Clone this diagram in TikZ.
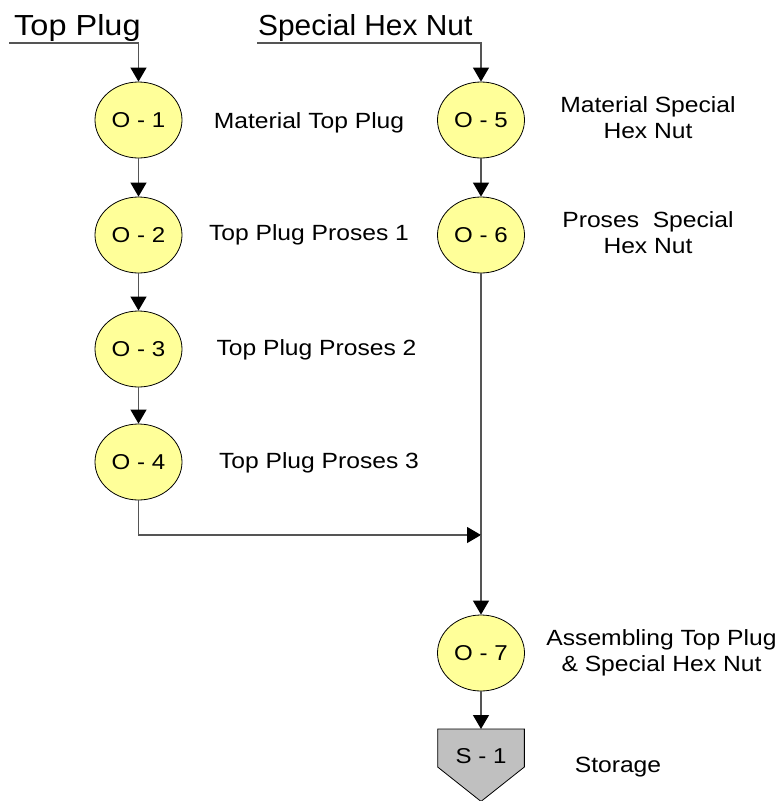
\documentclass[tikz,border=0pt]{standalone}
\usepackage{fontspec}
\setmainfont[FakeStretch=1.12]{Liberation Sans}
\newfontfamily\narrowtitle[FakeStretch=1.03]{Liberation Sans}
\usetikzlibrary{arrows.meta}
\definecolor{opfill}{HTML}{FFFF99}
\definecolor{stfill}{HTML}{C0C0C0}
\definecolor{lncol}{HTML}{555555}
\tikzset{
  op/.style={ellipse, draw=black, line width=0.8pt, fill=opfill, minimum width=87pt, minimum height=76pt, inner sep=0pt, font=\fontsize{21.5}{24}\selectfont},
  lbl/.style={align=center, font=\fontsize{22}{26}\selectfont},
  ttl/.style={anchor=base west, inner sep=0pt, font=\fontsize{29}{32}\selectfont},
  flow/.style={draw=lncol, line width=1.2pt, -{Triangle[length=14pt,width=16pt,color=black]}},
  ln/.style={draw=lncol, line width=1.2pt}
}
\usetikzlibrary{shapes.geometric}
\begin{document}
\begin{tikzpicture}[x=1pt,y=-1pt]
\useasboundingbox (0,0) rectangle (779,801);
% titles
\node[ttl] (t1) at (14,35) {Top Plug};
\node[ttl, font=\fontsize{29}{32}\narrowtitle] (t2) at (258,35) {Special Hex Nut};
\coordinate (s1start) at (9,43);
\coordinate (s2start) at (257,43);
% operations
\node[op] (o1) at (138.5,120) {O - 1};
\node[op] (o2) at (138.5,235) {O - 2};
\node[op] (o3) at (138.5,349) {O - 3};
\node[op] (o4) at (138.5,462) {O - 4};
\node[op] (o5) at (481,120) {O - 5};
\node[op] (o6) at (481,235) {O - 6};
\node[op] (o7) at (481,653) {O - 7};
% storage
\node (s1) [anchor=north, minimum width=86.3pt, minimum height=72pt, inner sep=0pt] at (481,729) {};
\fill[stfill] (s1.north west) -- (s1.north east) -- ([yshift=-38pt]s1.north east) -- (s1.south) -- ([yshift=-38pt]s1.north west) -- cycle;
\draw[black, line width=0.8pt] (s1.north west) -- (s1.north east) -- ([yshift=-38pt]s1.north east) -- (s1.south) -- ([yshift=-38pt]s1.north west) -- cycle;
\node[font=\fontsize{21.5}{24}\selectfont] (s1lab) at (481,756) {S - 1};
% labels
\node[lbl] (l1) at (309,123) {Material Top Plug};
\node[lbl] (l2) at (309,235) {Top Plug Proses 1};
\node[lbl] (l3) at (316.5,350) {Top Plug Proses 2};
\node[lbl] (l4) at (319,463) {Top Plug Proses 3};
\node[lbl] (l5) at (648,118) {Material Special\\Hex Nut};
\node[lbl] (l6) at (648,233) {Proses\ \ Special\\Hex Nut};
\node[lbl] (l7) at (661.5,653) {Assembling Top Plug\\\& Special Hex Nut};
\node[lbl] (l8) at (618,767) {Storage};
% connectors
\draw[flow] (s1start) -| (o1.north);
\draw[flow] (s2start) -| (o5.north);
\draw[flow] (o1) -- (o2);
\draw[flow] (o2) -- (o3);
\draw[flow] (o3) -- (o4);
\draw[flow] (o5) -- (o6);
\coordinate (j) at (481,535);
\draw[ln] (o6.south) -- (j);
\draw[flow] (o4.south) |- (j);
\draw[flow] (j) -- (o7.north);
\draw[flow] (o7) -- (s1.north);
\end{tikzpicture}
\end{document}
